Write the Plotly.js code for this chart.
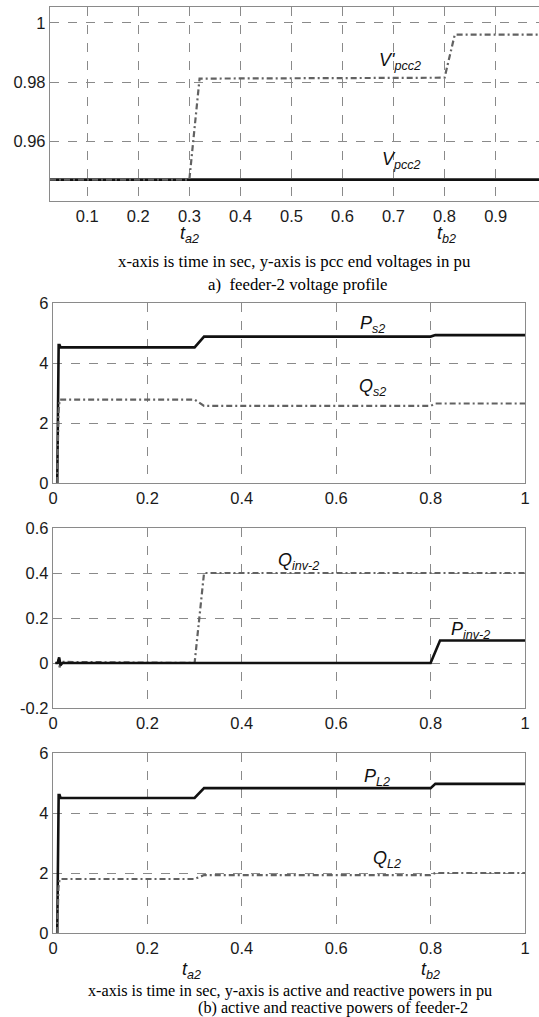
<!DOCTYPE html>
<html>
<head>
<meta charset="utf-8">
<script src="https://cdn.plot.ly/plotly-3.0.1.min.js"></script>
<style>html,body{margin:0;padding:0;background:#fff;}#chart{width:539px;height:1017px;}</style>
</head>
<body>
<div id="chart"></div>
<script>
// ---- Panel a) feeder-2 voltage profile ----
const tV = [0.027, 0.30, 0.32, 0.80, 0.82, 0.985];
const vPcc2 = [0.9472, 0.9472, 0.9472, 0.9472, 0.9472, 0.9472];
const vPcc2Prime = [0.9472, 0.9472, 0.9812, 0.9815, 0.9960, 0.9960];

// ---- Panel b1) source powers ----
const tPs = [0.009, 0.012, 0.014, 0.016, 0.30, 0.32, 0.80, 0.81, 1.0];
const ps2 = [0, 4.6, 4.6, 4.52, 4.52, 4.88, 4.88, 4.93, 4.93];
const tQs = [0.009, 0.0115, 0.014, 0.016, 0.30, 0.32, 0.80, 0.81, 1.0];
const qs2 = [0, 2.3, 2.78, 2.78, 2.78, 2.57, 2.57, 2.65, 2.65];

// ---- Panel b2) inverter powers ----
const tQinv = [0.005, 0.010, 0.012, 0.014, 0.018, 0.30, 0.32, 1.0];
const qInv = [0, 0.0, 0.02, -0.02, 0.005, 0.0, 0.40, 0.40];
const tPinv = [0.005, 0.010, 0.013, 0.016, 0.02, 0.80, 0.82, 1.0];
const pInv = [0, 0.0, 0.025, -0.01, 0.0, 0.0, 0.10, 0.10];

// ---- Panel b3) load powers ----
const tPL = [0.009, 0.012, 0.014, 0.016, 0.30, 0.32, 0.80, 0.81, 1.0];
const pL2 = [0, 4.6, 4.6, 4.5, 4.5, 4.83, 4.83, 4.97, 4.97];
const tQL = [0.009, 0.0115, 0.014, 0.016, 0.30, 0.32, 0.80, 0.81, 1.0];
const qL2 = [0, 1.5, 1.8, 1.8, 1.8, 1.93, 1.93, 2.0, 2.0];

// ---- tick labels ----
const xTicksA = [0.1, 0.2, 0.3, 0.4, 0.5, 0.6, 0.7, 0.8, 0.9];
const xTicksAText = ['0.1', '0.2', '0.3', '0.4', '0.5', '0.6', '0.7', '0.8', '0.9'];
const yTicksA = [0.96, 0.98, 1];
const yTicksAText = ['0.96', '0.98', '1'];
const xTicksB = [0, 0.2, 0.4, 0.6, 0.8, 1];
const xTicksBText = ['0', '0.2', '0.4', '0.6', '0.8', '1'];
const yTicksPow = [0, 2, 4, 6];
const yTicksPowText = ['0', '2', '4', '6'];
const yTicksInv = [-0.2, 0, 0.2, 0.4, 0.6];
const yTicksInvText = ['-0.2', '0', '0.2', '0.4', '0.6'];

const solid = {color: '#111111', width: 2.6};
const dashdot = {color: '#626262', width: 2.2, dash: '6px,3px,2px,3px'};

const traces = [
  {x: tV, y: vPcc2, xaxis: 'x', yaxis: 'y', mode: 'lines', line: solid},
  {x: tV, y: vPcc2Prime, xaxis: 'x', yaxis: 'y', mode: 'lines', line: dashdot},
  {x: tPs, y: ps2, xaxis: 'x2', yaxis: 'y2', mode: 'lines', line: solid},
  {x: tQs, y: qs2, xaxis: 'x2', yaxis: 'y2', mode: 'lines', line: dashdot},
  {x: tQinv, y: qInv, xaxis: 'x3', yaxis: 'y3', mode: 'lines', line: dashdot},
  {x: tPinv, y: pInv, xaxis: 'x3', yaxis: 'y3', mode: 'lines', line: solid},
  {x: tPL, y: pL2, xaxis: 'x4', yaxis: 'y4', mode: 'lines', line: solid},
  {x: tQL, y: qL2, xaxis: 'x4', yaxis: 'y4', mode: 'lines', line: dashdot}
];

const W = 539, H = 1017;
const px = v => v / W;
const py = v => 1 - v / H;

const tickFont = {family: 'Liberation Sans, Arial, sans-serif', size: 16.5, color: '#1a1a1a'};
function axis(dom, range, tv, tt, anchor) {
  return {domain: dom, range: range, anchor: anchor, tickvals: tv, ticktext: tt,
    showgrid: true, gridcolor: '#8a8a8a', gridwidth: 1, griddash: 'dash',
    showline: true, linecolor: '#8a8a8a', linewidth: 1.2, mirror: true,
    zeroline: false, ticks: '', tickfont: tickFont, automargin: false, fixedrange: true};
}

const lab = {family: 'Liberation Sans, Arial, sans-serif', size: 18, color: '#111'};
const cap = {family: 'Liberation Serif, Times New Roman, serif', size: 16.8, color: '#000'};
const cap2 = {family: 'Liberation Serif, Times New Roman, serif', size: 16.2, color: '#000'};
function note(text, x, y, xr, yr, font) {
  return {text: text, x: x, y: y, xref: xr, yref: yr, showarrow: false, font: font,
    xanchor: 'center', yanchor: 'middle'};
}

const layout = {
  width: W, height: H,
  margin: {l: 0, r: 0, t: 0, b: 0},
  paper_bgcolor: '#ffffff', plot_bgcolor: '#ffffff',
  showlegend: false,
  xaxis: axis([px(50), px(539)], [0.027, 0.985], xTicksA, xTicksAText, 'y'),
  yaxis: axis([py(201), py(7)], [0.94, 1.0053], yTicksA, yTicksAText, 'x'),
  xaxis2: axis([px(53), px(525)], [0, 1], xTicksB, xTicksBText, 'y2'),
  yaxis2: axis([py(483), py(303)], [0, 6], yTicksPow, yTicksPowText, 'x2'),
  xaxis3: axis([px(53), px(525)], [0, 1], xTicksB, xTicksBText, 'y3'),
  yaxis3: axis([py(708), py(528)], [-0.2, 0.6], yTicksInv, yTicksInvText, 'x3'),
  xaxis4: axis([px(53), px(525)], [0, 1], xTicksB, xTicksBText, 'y4'),
  yaxis4: axis([py(933), py(753)], [0, 6], yTicksPow, yTicksPowText, 'x4'),
  annotations: [
    note("<i>V'<sub>pcc2</sub></i>", 0.712, 0.9868, 'x', 'y', lab),
    note('<i>V<sub>pcc2</sub></i>', 0.716, 0.9535, 'x', 'y', lab),
    note('<i>t<sub>a2</sub></i>', px(189), py(234), 'paper', 'paper', lab),
    note('<i>t<sub>b2</sub></i>', px(446), py(234), 'paper', 'paper', lab),
    note('x-axis is time in sec, y-axis is pcc end voltages in pu', px(294), py(262), 'paper', 'paper', cap),
    note('a)  feeder-2 voltage profile', px(298), py(284), 'paper', 'paper', cap),
    note('<i>P<sub>s2</sub></i>', 0.676, 5.3, 'x2', 'y2', lab),
    note('<i>Q<sub>s2</sub></i>', 0.676, 3.2, 'x2', 'y2', lab),
    note('<i>Q<sub>inv-2</sub></i>', 0.52, 0.45, 'x3', 'y3', lab),
    note('<i>P<sub>inv-2</sub></i>', 0.885, 0.145, 'x3', 'y3', lab),
    note('<i>P<sub>L2</sub></i>', 0.687, 5.2, 'x4', 'y4', lab),
    note('<i>Q<sub>L2</sub></i>', 0.708, 2.45, 'x4', 'y4', lab),
    note('<i>t<sub>a2</sub></i>', px(191), py(970), 'paper', 'paper', lab),
    note('<i>t<sub>b2</sub></i>', px(430), py(970), 'paper', 'paper', lab),
    note('x-axis is time in sec, y-axis is active and reactive powers in pu', px(290), py(991), 'paper', 'paper', cap2),
    note('(b) active and reactive powers of feeder-2', px(333), py(1007.5), 'paper', 'paper', cap2)
  ]
};

Plotly.newPlot('chart', traces, layout, {displayModeBar: false, staticPlot: true});
</script>
</body>
</html>
